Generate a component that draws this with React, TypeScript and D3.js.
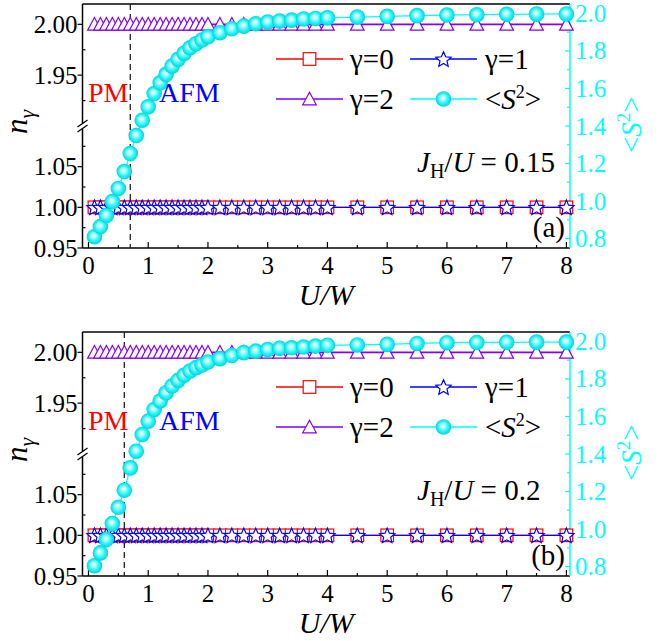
import React from 'react';
import * as d3 from 'd3';

const uW = [0.1, 0.2, 0.3, 0.4, 0.5, 0.6, 0.7, 0.8, 0.9, 1.0, 1.1, 1.2, 1.3, 1.4, 1.5, 1.6, 1.7, 1.8, 1.9, 2.0,
  2.2, 2.4, 2.6, 2.8, 3.0, 3.2, 3.4, 3.6, 3.8, 4.0, 4.5, 5.0, 5.5, 6.0, 6.5, 7.0, 7.5, 8.0];

const n0A = [1.0, 1.0, 1.0, 1.0, 1.0, 1.0, 1.0, 1.0, 1.0, 1.0, 1.0, 1.0, 1.0, 1.0, 1.0, 1.0, 1.0, 1.0, 1.0, 1.0,
  1.0, 1.0, 1.0, 1.0, 1.0, 1.0, 1.0, 1.0, 1.0, 1.0, 1.0, 1.0, 1.0, 1.0, 1.0, 1.0, 1.0, 1.0];
const n1A = [1.0, 1.0, 1.0, 1.0, 1.0, 1.0, 1.0, 1.0, 1.0, 1.0, 1.0, 1.0, 1.0, 1.0, 1.0, 1.0, 1.0, 1.0, 1.0, 1.0,
  1.0, 1.0, 1.0, 1.0, 1.0, 1.0, 1.0, 1.0, 1.0, 1.0, 1.0, 1.0, 1.0, 1.0, 1.0, 1.0, 1.0, 1.0];
const n2A = [2.0, 2.0, 2.0, 2.0, 2.0, 2.0, 2.0, 2.0, 2.0, 2.0, 2.0, 2.0, 2.0, 2.0, 2.0, 2.0, 2.0, 2.0, 2.0, 2.0,
  2.0, 2.0, 2.0, 2.0, 2.0, 2.0, 2.0, 2.0, 2.0, 2.0, 2.0, 2.0, 2.0, 2.0, 2.0, 2.0, 2.0, 2.0];
const s2A = [0.81, 0.864, 0.923, 0.997, 1.067, 1.157, 1.253, 1.349, 1.431, 1.502, 1.573, 1.63, 1.675, 1.719, 1.755, 1.787, 1.817, 1.838, 1.858, 1.876,
  1.897, 1.918, 1.932, 1.945, 1.954, 1.959, 1.964, 1.97, 1.973, 1.976, 1.98, 1.984, 1.988, 1.991, 1.993, 1.995, 1.996, 1.997];

const n0B = n0A.slice();
const n1B = n1A.slice();
const n2B = n2A.slice();
const s2B = [0.805, 0.873, 0.944, 1.029, 1.116, 1.207, 1.326, 1.415, 1.504, 1.575, 1.637, 1.682, 1.726, 1.762, 1.792, 1.819, 1.842, 1.86, 1.874, 1.89,
  1.908, 1.925, 1.94, 1.948, 1.957, 1.963, 1.966, 1.97, 1.975, 1.979, 1.981, 1.984, 1.989, 1.993, 1.994, 1.995, 1.996, 1.996];

const xMajor = [0, 1, 2, 3, 4, 5, 6, 7, 8];
const xMinor = [0.5, 1.5, 2.5, 3.5, 4.5, 5.5, 6.5, 7.5];
const rightMajor = [0.8, 1.0, 1.2, 1.4, 1.6, 1.8, 2.0];
const rightMinor = [0.9, 1.1, 1.3, 1.5, 1.7, 1.9];
const leftUpperMajor = [1.95, 2.0];
const leftUpperMinor = [1.925, 1.975];
const leftLowerMajor = [0.95, 1.0, 1.05];
const leftLowerMinor = [0.975, 1.025, 1.075];
const panelTags = ['(a)', '(b)'];
const jhuText = ['0.15', '0.2'];
const transitionU = [0.7, 0.6];

const FONT = "'Liberation Serif', 'Times New Roman', serif";
const RED = '#FF0000';
const BLUE = '#0000FF';
const PURPLE = '#8000FF';
const CYAN = '#00FFFF';

const PH = 244; // panel height
const TOP = 4;
const BOT = TOP + PH;
const BRK = (TOP + BOT) / 2;
const LEFT = 82.5;
const RIGHT = 570;

const x = d3.scaleLinear().domain([-0.1, 8.06]).range([LEFT, RIGHT]);
const yUp = d3.scaleLinear().domain([1.9, 2.02]).range([BRK, TOP]);
const yLo = d3.scaleLinear().domain([0.95, 1.1]).range([BOT, BRK]);
const yL = (v: number) => (v > 1.5 ? yUp(v) : yLo(v));
const yR = d3.scaleLinear().domain([0.75, 2.05]).range([BOT, TOP]);

function starPath(R: number, r: number) {
  const pts: string[] = [];
  for (let i = 0; i < 10; i++) {
    const a = -Math.PI / 2 + (i * Math.PI) / 5;
    const rad = i % 2 === 0 ? R : r;
    pts.push(`${(rad * Math.cos(a)).toFixed(2)},${(rad * Math.sin(a) + 0.8).toFixed(2)}`);
  }
  return 'M' + pts.join('L') + 'Z';
}
const STAR = starPath(8, 3.7);
const TRI = 'M0,-6.8L6.8,5.8L-6.8,5.8Z';

const Square = ({ cx, cy }: { cx: number; cy: number }) => (
  <rect x={cx - 6.3} y={cy - 6.3} width={12.6} height={12.6} fill="#fff" stroke={RED} strokeWidth={1.2} />
);
const Star = ({ cx, cy }: { cx: number; cy: number }) => (
  <path d={STAR} transform={`translate(${cx},${cy})`} fill="#fff" stroke={BLUE} strokeWidth={1.2} strokeLinejoin="miter" />
);
const Tri = ({ cx, cy }: { cx: number; cy: number }) => (
  <path d={TRI} transform={`translate(${cx},${cy})`} fill="#fff" stroke={PURPLE} strokeWidth={1.2} />
);
const Ball = ({ cx, cy }: { cx: number; cy: number }) => (
  <circle cx={cx} cy={cy} r={7.8} fill="url(#ballGrad)" />
);

const S2Label = ({ sup }: { sup: number }) => (
  <>
    {'<'}<tspan fontStyle="italic">S</tspan><tspan fontSize={sup} dy={-11}>2</tspan><tspan dy={11}>{'>'}</tspan>
  </>
);

function Panel({ idx, offset, n0, n1, n2, s2 }: { idx: number; offset: number; n0: number[]; n1: number[]; n2: number[]; s2: number[] }) {
  const lineL = d3.line<[number, number]>().x((d) => x(d[0])).y((d) => yL(d[1]));
  const lineR = d3.line<[number, number]>().x((d) => x(d[0])).y((d) => yR(d[1]));
  const zip = (arr: number[]) => uW.map((u, i) => [u, arr[i]] as [number, number]);
  const fs = 25;
  return (
    <g transform={`translate(0,${offset})`} fontFamily={FONT}>
      {/* frame */}
      <line x1={LEFT} x2={RIGHT} y1={TOP} y2={TOP} stroke="#000" strokeWidth={1.5} />
      <line x1={LEFT} x2={RIGHT} y1={BOT} y2={BOT} stroke="#000" strokeWidth={1.5} />
      <line x1={LEFT} x2={LEFT} y1={TOP} y2={BRK - 2.5} stroke="#000" strokeWidth={1.5} />
      <line x1={LEFT} x2={LEFT} y1={BRK + 2.5} y2={BOT} stroke="#000" strokeWidth={1.5} />
      <line x1={LEFT - 5} x2={LEFT + 5} y1={BRK + 1} y2={BRK - 6} stroke="#000" strokeWidth={1.3} />
      <line x1={LEFT - 5} x2={LEFT + 5} y1={BRK + 6} y2={BRK - 1} stroke="#000" strokeWidth={1.3} />
      <line x1={RIGHT} x2={RIGHT} y1={TOP} y2={BOT} stroke={CYAN} strokeWidth={1.5} />

      {/* x ticks */}
      {xMajor.map((t) => (
        <g key={'xm' + t}>
          <line x1={x(t)} x2={x(t)} y1={BOT} y2={BOT - 6} stroke="#000" strokeWidth={1.2} />
          <text x={x(t)} y={BOT + 26} fontSize={fs} textAnchor="middle">{t}</text>
        </g>
      ))}
      {xMinor.map((t) => (
        <line key={'xn' + t} x1={x(t)} x2={x(t)} y1={BOT} y2={BOT - 3} stroke="#000" strokeWidth={1.2} />
      ))}
      {/* left ticks */}
      {leftUpperMajor.map((t) => (
        <g key={'lu' + t}>
          <line x1={LEFT} x2={LEFT - 5} y1={yUp(t)} y2={yUp(t)} stroke="#000" strokeWidth={1.2} />
          <text x={LEFT - 5} y={yUp(t) + 8.5} fontSize={fs} textAnchor="end">{t.toFixed(2)}</text>
        </g>
      ))}
      {leftUpperMinor.map((t) => (
        <line key={'lun' + t} x1={LEFT} x2={LEFT + 3} y1={yUp(t)} y2={yUp(t)} stroke="#000" strokeWidth={1.2} />
      ))}
      {leftLowerMajor.map((t) => (
        <g key={'ll' + t}>
          <line x1={LEFT} x2={LEFT - 5} y1={yLo(t)} y2={yLo(t)} stroke="#000" strokeWidth={1.2} />
          <text x={LEFT - 5} y={yLo(t) + 8.5} fontSize={fs} textAnchor="end">{t.toFixed(2)}</text>
        </g>
      ))}
      {leftLowerMinor.map((t) => (
        <line key={'lln' + t} x1={LEFT} x2={LEFT + 3} y1={yLo(t)} y2={yLo(t)} stroke="#000" strokeWidth={1.2} />
      ))}
      {/* right ticks */}
      {rightMajor.map((t) => (
        <g key={'rm' + t}>
          <line x1={RIGHT} x2={RIGHT - 5} y1={yR(t)} y2={yR(t)} stroke={CYAN} strokeWidth={1.2} />
          <text x={RIGHT + 5} y={yR(t) + 8.5} fontSize={fs} fill={CYAN}>{t.toFixed(1)}</text>
        </g>
      ))}
      {rightMinor.map((t) => (
        <line key={'rn' + t} x1={RIGHT} x2={RIGHT - 3} y1={yR(t)} y2={yR(t)} stroke={CYAN} strokeWidth={1.2} />
      ))}

      {/* dashed transition line */}
      <line x1={x(transitionU[idx])} x2={x(transitionU[idx])} y1={TOP} y2={BOT} stroke="#222" strokeWidth={1.3} strokeDasharray="6,4" />

      {/* series */}
      <path d={lineL(zip(n0)) || ''} fill="none" stroke={RED} strokeWidth={1.3} />
      {uW.map((u, i) => <Square key={'s' + i} cx={x(u)} cy={yL(n0[i])} />)}
      <path d={lineL(zip(n1)) || ''} fill="none" stroke={BLUE} strokeWidth={1.3} />
      {uW.map((u, i) => <Star key={'t' + i} cx={x(u)} cy={yL(n1[i])} />)}
      <path d={lineL(zip(n2)) || ''} fill="none" stroke={PURPLE} strokeWidth={1.6} />
      {uW.map((u, i) => <Tri key={'p' + i} cx={x(u)} cy={yL(n2[i])} />)}
      <path d={lineR(zip(s2)) || ''} fill="none" stroke={CYAN} strokeWidth={1.3} />
      {uW.map((u, i) => <Ball key={'b' + i} cx={x(u)} cy={yR(s2[i])} />)}

      {/* legend */}
      <g fontSize={29}>
        <line x1={276} x2={343} y1={TOP + 55} y2={TOP + 55} stroke={RED} strokeWidth={1.3} />
        <Square cx={309.5} cy={TOP + 55} />
        <text x={350} y={TOP + 65}>γ=0</text>
        <line x1={410} x2={477} y1={TOP + 55} y2={TOP + 55} stroke={BLUE} strokeWidth={1.3} />
        <Star cx={443.5} cy={TOP + 55} />
        <text x={485} y={TOP + 65}>γ=1</text>
        <line x1={276} x2={343} y1={TOP + 95} y2={TOP + 95} stroke={PURPLE} strokeWidth={1.6} />
        <Tri cx={309.5} cy={TOP + 95} />
        <text x={350} y={TOP + 105}>γ=2</text>
        <line x1={410} x2={477} y1={TOP + 95} y2={TOP + 95} stroke={CYAN} strokeWidth={1.3} />
        <Ball cx={443.5} cy={TOP + 95} />
        <text x={485} y={TOP + 105}><S2Label sup={18} /></text>
      </g>

      {/* annotations */}
      <text x={88} y={TOP + 98} fontSize={28} fill={RED}>PM</text>
      <text x={159} y={TOP + 98} fontSize={28} fill={BLUE}>AFM</text>
      <text x={417} y={TOP + 168} fontSize={29}>
        <tspan fontStyle="italic">J</tspan>
        <tspan fontSize={20} dy={6}>H</tspan>
        <tspan dy={-6}>/</tspan>
        <tspan fontStyle="italic">U</tspan>
        <tspan>{' = ' + jhuText[idx]}</tspan>
      </text>
      <text x={565} y={TOP + 233} fontSize={29} textAnchor="end">{panelTags[idx]}</text>

      {/* axis labels */}
      <text x={(LEFT + RIGHT) / 2} y={BOT + 57} fontSize={30} textAnchor="middle" fontStyle="italic">U/W</text>
      <text transform={`translate(27,${TOP + 130}) rotate(-90)`} fontSize={31}>
        <tspan fontStyle="italic">n</tspan><tspan fontSize={22} dy={7} fontStyle="italic">γ</tspan>
      </text>
      <text transform={`translate(641,${TOP + 149}) rotate(-90)`} fontSize={29} fill={CYAN}>
        <S2Label sup={19} />
      </text>
    </g>
  );
}

export default function App() {
  return (
    <svg width={665} height={641} style={{ position: 'absolute', left: 0, top: 0, background: '#fff' }}>
      <defs>
        <radialGradient id="ballGrad" cx="0.5" cy="0.5" r="0.5" fx="0.42" fy="0.4">
          <stop offset="0" stopColor="#ffffff" />
          <stop offset="0.25" stopColor="#c0ffff" />
          <stop offset="0.6" stopColor="#30f8f8" />
          <stop offset="1" stopColor="#00d4dc" />
        </radialGradient>
      </defs>
      <rect x={0} y={0} width={665} height={641} fill="#fff" />
      <Panel idx={0} offset={0} n0={n0A} n1={n1A} n2={n2A} s2={s2A} />
      <Panel idx={1} offset={328} n0={n0B} n1={n1B} n2={n2B} s2={s2B} />
    </svg>
  );
}
